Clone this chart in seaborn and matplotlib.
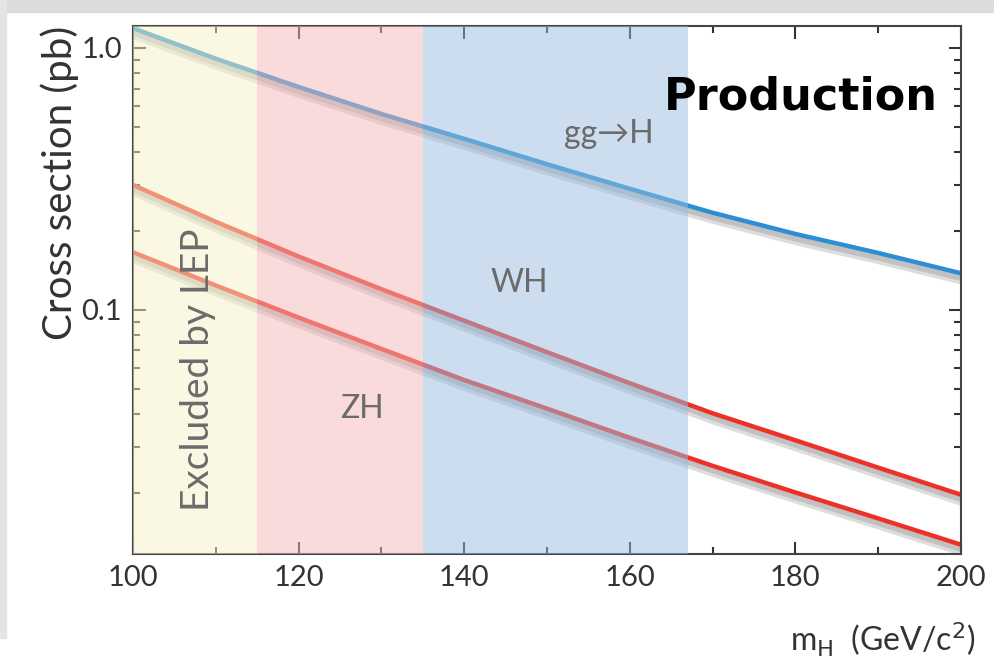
import numpy as np
import pandas as pd
import seaborn as sns
import matplotlib.pyplot as plt
import matplotlib.patheffects as pe
from matplotlib.ticker import FixedLocator, LogLocator, NullFormatter, MultipleLocator

# Higgs mass points (GeV/c^2)
mass = [100, 110, 120, 130, 140, 150, 160, 170, 180, 190, 200]
# cross sections (pb)
gg_h = [1.19, 0.91, 0.71, 0.56, 0.45, 0.36, 0.29, 0.235, 0.195, 0.165, 0.138]
wh = [0.30, 0.217, 0.160, 0.120, 0.091, 0.069, 0.0525, 0.0403, 0.0318, 0.025, 0.0197]
zh = [0.166, 0.124, 0.0935, 0.071, 0.054, 0.042, 0.0325, 0.0254, 0.0201, 0.016, 0.0127]

# shaded mass regions
band_lo = [100, 115, 135]
band_hi = [115, 135, 167]
band_colors = ['#f7f3c8', '#f5b8b8', '#98bce0']

df = pd.DataFrame({'mass': mass * 3,
                   'xsec': gg_h + wh + zh,
                   'process': ['gg->H'] * 11 + ['WH'] * 11 + ['ZH'] * 11})

sns.set_style('ticks')
plt.rcParams['font.family'] = ['Lato', 'DejaVu Sans']

fig = plt.figure(figsize=(9.95, 6.72), dpi=100)
ax = fig.add_axes([0.1337, 0.1756, 0.8321, 0.7857])

# screenshot-like gray border on top / left
fig.patches.append(plt.Rectangle((0, 0.982), 1, 0.018, transform=fig.transFigure,
                                 color='#dcdcdc', zorder=0))
fig.patches.append(plt.Rectangle((0, 0.05), 0.006, 0.95, transform=fig.transFigure,
                                 color='#e4e4e4', zorder=0))

shadow = [pe.SimpleLineShadow(offset=(2, -5), shadow_color='#555555', alpha=0.2, linewidth=7),
          pe.SimpleLineShadow(offset=(2, -4), shadow_color='#555555', alpha=0.2, linewidth=4),
          pe.Normal()]
palette = {'gg->H': '#2b8fd2', 'WH': '#ec3228', 'ZH': '#ec3228'}
sns.lineplot(data=df, x='mass', y='xsec', hue='process', palette=palette,
             linewidth=3.2, legend=False, ax=ax, zorder=2)
for line in ax.get_lines():
    line.set_path_effects(shadow)

for lo, hi, c in zip(band_lo, band_hi, band_colors):
    ax.axvspan(lo, hi, color=c, alpha=0.5, lw=0, zorder=3)

ax.set_yscale('log')
ax.set_xlim(100, 200)
ax.set_ylim(0.0117, 1.213)

ax.xaxis.set_major_locator(MultipleLocator(20))
ax.xaxis.set_minor_locator(MultipleLocator(10))
ax.yaxis.set_major_locator(FixedLocator([0.1, 1.0]))
ax.set_yticklabels(['0.1', '1.0'])
ax.yaxis.set_minor_locator(LogLocator(base=10, subs=np.arange(2, 10)))
ax.yaxis.set_minor_formatter(NullFormatter())
ax.tick_params(which='both', direction='in', top=True, right=True,
               labelsize=21, colors='#333333', width=1.5)
ax.tick_params(which='major', length=9, pad=8)
ax.tick_params(which='minor', length=5)
for s in ax.spines.values():
    s.set_color('#444444')
    s.set_linewidth(1.5)

ax.set_xlabel('')
ax.set_ylabel('Cross section (pb)', fontsize=29, color='#333333', loc='top', labelpad=2)

txt = dict(color='#6b6b6b', zorder=4)
ax.text(107.8, 0.059, 'Excluded by LEP', rotation=90, fontsize=28,
        ha='center', va='center', **txt)
ax.text(127.7, 0.042, 'ZH', fontsize=23, ha='center', va='center', **txt)
ax.text(146.7, 0.127, 'WH', fontsize=23, ha='center', va='center', **txt)
ax.text(157.5, 0.47, 'gg→H', fontsize=23, ha='center', va='center',
        family=['Lato', 'DejaVu Sans'], **txt)
ax.text(197.2, 0.65, 'Production', fontsize=32, fontweight='bold',
        family='DejaVu Sans', ha='right', va='center', color='black', zorder=5)

fig.text(0.98, 0.02, r'm$_{\rm H}$  (GeV/c$^2$)', fontsize=23,
         ha='right', va='bottom', color='#333333')

fig.savefig('out.png', dpi=100)
